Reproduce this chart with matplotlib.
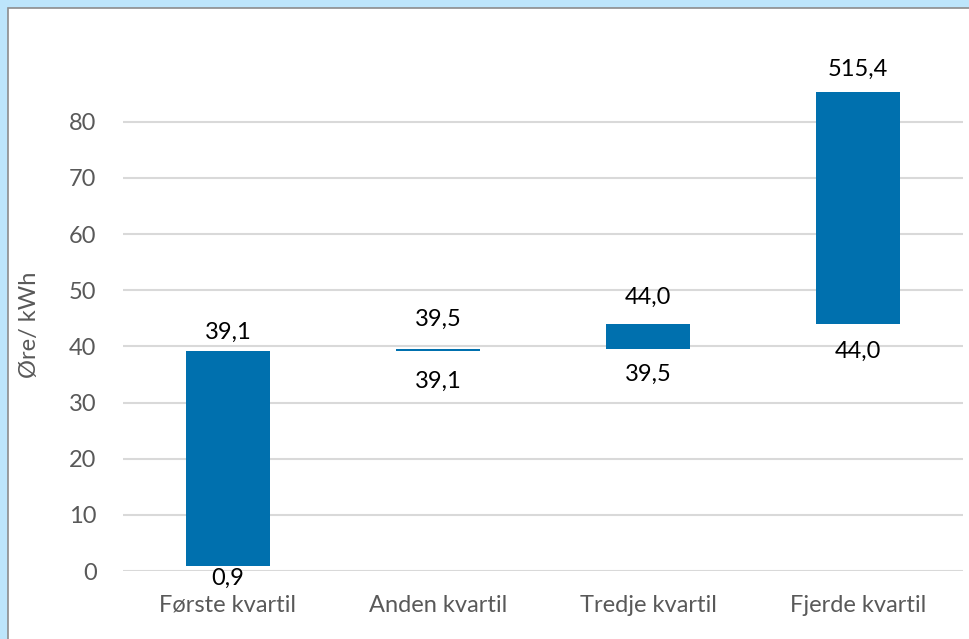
import matplotlib
matplotlib.use("Agg")
import matplotlib.pyplot as plt
from matplotlib.patches import Rectangle

plt.rcParams['font.family'] = ['Lato', 'DejaVu Sans']

categories = ["Første kvartil", "Anden kvartil", "Tredje kvartil", "Fjerde kvartil"]
low_values = [0.9, 39.1, 39.5, 44.0]
high_values = [39.1, 39.5, 44.0, 515.4]
y_ticks = [0, 10, 20, 30, 40, 50, 60, 70, 80]
y_label = "Øre/ kWh"

# label offsets in pixels (style only)
top_offsets = [19, 30, 27, 22]
bottom_offsets = [12, 30, 25, 27]

W, H = 970, 639
FS = 17
fig = plt.figure(figsize=(W / 100, H / 100), dpi=100)
fig.patch.set_facecolor("#BDE5FB")
frame = Rectangle((8 / W, -0.01), 1.0, 1 - 8 / H + 0.01, transform=fig.transFigure,
                  facecolor="white", edgecolor="#8C8C8C", linewidth=1.2, zorder=-10)
fig.patches.append(frame)

ax = fig.add_axes([123 / W, 1 - 571 / H, (963 - 123) / W, (571 - 91.7) / H])
ax.set_zorder(5)
ax.set_facecolor("none")
bar_color = "#0070AE"
x = list(range(len(categories)))
heights = [h - l for l, h in zip(low_values, high_values)]
ax.bar(x, heights, bottom=low_values, width=0.4, color=bar_color, zorder=2)

ax.set_xlim(-0.5, len(categories) - 0.5)
ax.set_ylim(0, 85.35)
ax.set_yticks(y_ticks)
ax.set_yticklabels([str(t) for t in y_ticks])
ax.set_xticks(x)
ax.set_xticklabels(categories)
for s in ax.spines.values():
    s.set_visible(False)
ax.tick_params(axis="both", length=0, colors="#595959", labelsize=FS)
ax.tick_params(axis="y", pad=19)
ax.tick_params(axis="x", pad=17)
ax.yaxis.grid(True, color="#D9D9D9", linewidth=1.5, zorder=0)
ax.set_axisbelow(True)

def fmt(v):
    return f"{v:.1f}".replace(".", ",")

ymax = ax.get_ylim()[1]
for i, (lo, hi) in enumerate(zip(low_values, high_values)):
    top = min(hi, ymax)
    ax.annotate(fmt(hi), (i, top), xytext=(0, top_offsets[i] * 0.72), textcoords="offset points",
                ha="center", va="center", fontsize=FS, color="black", annotation_clip=False)
    ax.annotate(fmt(lo), (i, lo), xytext=(0, -bottom_offsets[i] * 0.72), textcoords="offset points",
                ha="center", va="center", fontsize=FS, color="black", annotation_clip=False)

fig.text(30 / W, 1 - 325 / H, y_label, rotation=90, ha="center", va="center",
         fontsize=FS, color="#595959", zorder=6)

fig.savefig("out.png", dpi=100, facecolor=fig.get_facecolor())
